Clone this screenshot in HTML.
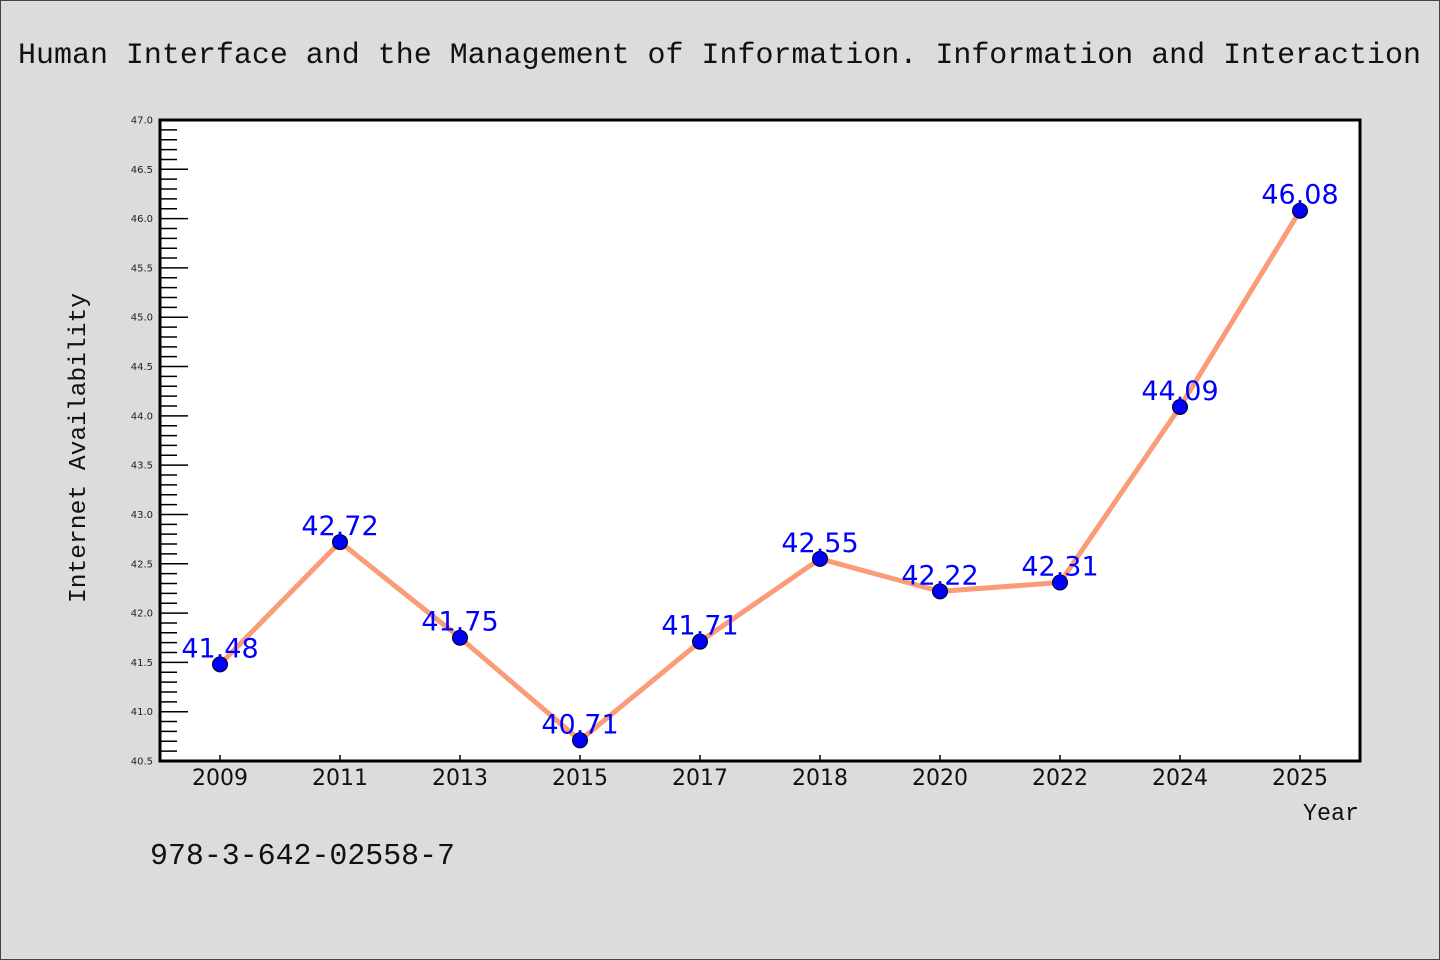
<!DOCTYPE html>
<html><head><meta charset="utf-8"><style>
body{margin:0;background:#dcdcdc;}
svg{display:block;}
text{font-family:"WenQuanYi Zen Hei","Liberation Mono",monospace;}
.sans{font-family:"DejaVu Sans","Liberation Sans",sans-serif;}
</style></head><body>
<svg id="chart" width="1440" height="960" xmlns="http://www.w3.org/2000/svg">
<rect x="0.5" y="0.5" width="1439" height="959" fill="#dcdcdc" stroke="#444"/>
<text x="18" y="63" font-size="30" textLength="1403" lengthAdjust="spacingAndGlyphs" fill="#111">Human Interface and the Management of Information. Information and Interaction</text>
<rect x="160" y="120" width="1200" height="641" fill="#fff"/>
<g id="axes"></g>
<g id="series"></g>
<rect x="160" y="120" width="1200" height="641" fill="none" stroke="#000" stroke-width="3"/>
<text transform="translate(85,603) rotate(-90)" font-size="24" textLength="310" lengthAdjust="spacingAndGlyphs" fill="#111">Internet Availability</text>
<text x="1303" y="820" font-size="24" textLength="56" lengthAdjust="spacingAndGlyphs" fill="#111">Year</text>
<text x="150" y="864" font-size="31" textLength="305" lengthAdjust="spacingAndGlyphs" fill="#111">978-3-642-02558-7</text>
</svg>
<script>
const categories=["2009","2011","2013","2015","2017","2018","2020","2022","2024","2025"];
const values=[41.48,42.72,41.75,40.71,41.71,42.55,42.22,42.31,44.09,46.08];
const yTicks=[40.5,41.0,41.5,42.0,42.5,43.0,43.5,44.0,44.5,45.0,45.5,46.0,46.5,47.0];
const yMin=40.5,yMax=47.0;
const NS="http://www.w3.org/2000/svg";
function yS(v){return 761-(v-yMin)/(yMax-yMin)*641;}
function xS(i){return 220+i*120;}
function mk(t,a,p){const e=document.createElementNS(NS,t);for(const k in a)e.setAttribute(k,a[k]);p.appendChild(e);return e;}
const ax=document.getElementById('axes'),se=document.getElementById('series');
for(let k=0;k<=65;k++){const v=yMin+k*0.1;const y=yS(v);const major=k%5===0;
 const l=mk('line',{x1:160,x2:160+(major?28:17),y1:y,y2:y,stroke:'#000','stroke-width':1.5},ax);
 
 }
yTicks.forEach(v=>{const t=mk('text',{x:153,y:yS(v)+3.5,'font-size':10,'text-anchor':'end',fill:'#222',class:'sans'},ax);
 t.textContent=v.toFixed(1);
 
 });
categories.forEach((c,i)=>{const l=mk('line',{x1:xS(i),x2:xS(i),y1:761,y2:755,stroke:'#000','stroke-width':1.5},ax);
 
 
 const t=mk('text',{x:xS(i),y:785,'font-size':22,'text-anchor':'middle',fill:'#111',class:'sans'},ax);
 t.textContent=c;
 
 });
const pl=mk('polyline',{points:values.map((v,i)=>xS(i)+','+yS(v)).join(' '),fill:'none',stroke:'#fa9c78','stroke-width':5,'stroke-linejoin':'round'},se);


values.forEach((v,i)=>{const c=mk('circle',{cx:xS(i),cy:yS(v),r:7.5,fill:'#0000ff',stroke:'#000','stroke-width':1},se);
 
 
 const t=mk('text',{x:xS(i),y:yS(v)-7,'font-size':27,'text-anchor':'middle',fill:'#0000ff',class:'sans'},se);
 t.textContent=v.toFixed(2);
 
 });
</script>
</body></html>
